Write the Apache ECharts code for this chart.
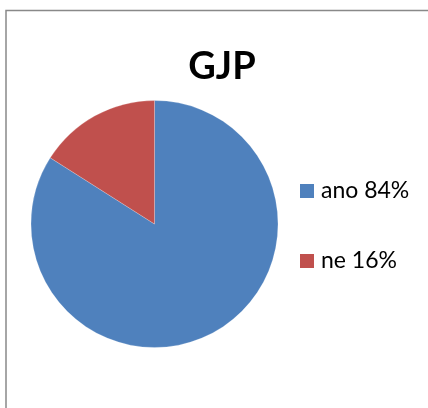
<!DOCTYPE html>
<html>
<head>
<meta charset="utf-8">
<script src="https://cdn.jsdelivr.net/npm/echarts@6/dist/echarts.min.js"></script>
<style>
  html, body { margin: 0; padding: 0; background: #fff; }
  #main { width: 428px; height: 408px; }
</style>
</head>
<body>
<div id="main"></div>
<script>
// values
const names = ['ano', 'ne'];
const values = [84, 16];
const colors = ['#4F81BD', '#C0504D'];

let myChart = echarts.init(document.getElementById('main'));

let pieData = names.map((n, i) => ({
    name: n,
    value: values[i],
    itemStyle: { color: colors[i] }
}));

let option = {
    animation: false,
    title: {
        text: 'GJP',
        left: 217,
        textAlign: 'center',
        top: 43,
        textStyle: {
            fontFamily: 'Lato',
            fontWeight: 'bold',
            fontSize: 38,
            color: '#000'
        }
    },
    legend: {
        orient: 'vertical',
        left: 295,
        top: 174,
        itemWidth: 14,
        itemHeight: 14,
        itemGap: 46,
        icon: 'rect',
        itemStyle: { borderWidth: 0 },
        data: names,
        formatter: function (name) {
            let i = names.indexOf(name);
            return name + ' ' + values[i] + '%';
        },
        textStyle: {
            fontFamily: 'Lato',
            fontSize: 23,
            lineHeight: 24,
            color: '#000',
            padding: [0, 0, 0, 2]
        }
    },
    graphic: [{
        type: 'rect',
        silent: true,
        shape: { x: 6, y: 10.5, width: 440, height: 420 },
        style: { fill: 'none', stroke: '#898989', lineWidth: 1.5 }
    }],
    series: [{
        type: 'pie',
        center: [154.5, 224],
        radius: [0, 123.5],
        startAngle: 90,
        clockwise: true,
        label: { show: false },
        labelLine: { show: false },
        emphasis: { disabled: true },
        itemStyle: { borderColor: 'rgba(255,255,255,0.4)', borderWidth: 0.5 },
        data: pieData
    }]
};
myChart.setOption(option);
</script>
</body>
</html>
